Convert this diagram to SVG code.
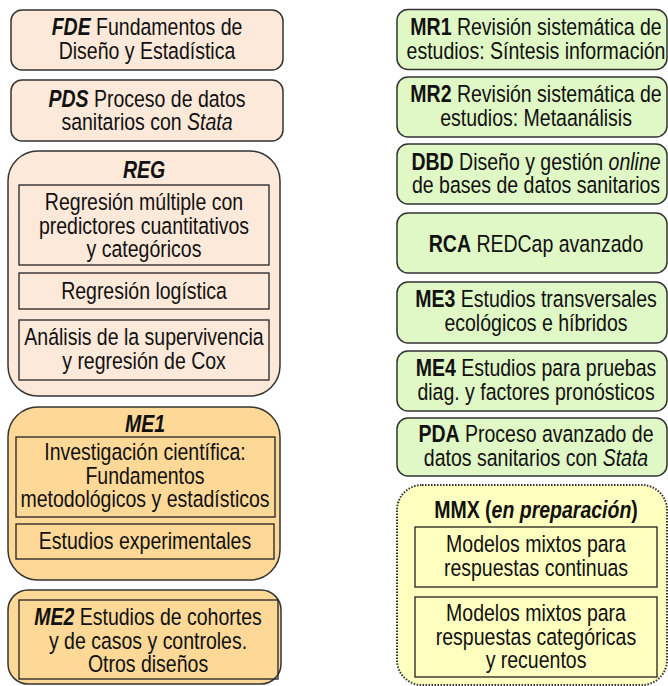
<svg xmlns="http://www.w3.org/2000/svg" width="668" height="686" viewBox="0 0 668 686">
<style>
text{font-family:"Liberation Sans",Arial,sans-serif;font-size:23.5px;fill:#111;text-anchor:middle}
.b{font-weight:bold}
.bi{font-weight:bold;font-style:italic}
.i{font-style:italic}
.peach{fill:#FDE9D9;stroke:#333;stroke-width:1.5}
.orange{fill:#FDD897;stroke:#333;stroke-width:1.5}
.green{fill:#E0F7C6;stroke:#333;stroke-width:1.5}
.yellow{fill:#FFFFC0;stroke:#333;stroke-width:2;stroke-dasharray:1.5 1.5}
.inner{fill:none;stroke:#222;stroke-width:1.3}
</style>
<rect width="668" height="686" fill="#fff"/>
<g id="FDE">
<rect class="peach" x="11" y="10" width="272" height="60" rx="11"/>
<g transform="translate(147 0) scale(0.83 1)">
<text x="0" y="35.5"><tspan class="bi">FDE</tspan> Fundamentos de</text>
<text x="0" y="59.5">Diseño y Estadística</text>
</g>
</g>
<g id="PDS">
<rect class="peach" x="11" y="80" width="272" height="61" rx="11"/>
<g transform="translate(147 0) scale(0.83 1)">
<text x="0" y="107"><tspan class="bi">PDS</tspan> Proceso de datos</text>
<text x="0" y="130.5">sanitarios con <tspan class="i">Stata</tspan></text>
</g>
</g>
<g id="REG">
<rect class="peach" x="8" y="151" width="272" height="245" rx="30"/>
<rect class="inner" x="19" y="185" width="250" height="80"/>
<rect class="inner" x="19" y="273" width="250" height="36"/>
<rect class="inner" x="19" y="320" width="250" height="60"/>
<g transform="translate(144 0) scale(0.83 1)">
<text class="bi" x="0" y="178.5">REG</text>
<text x="0" y="210.5">Regresión múltiple con</text>
<text x="0" y="234">predictores cuantitativos</text>
<text x="0" y="257.5">y categóricos</text>
<text x="0" y="299.5">Regresión logística</text>
<text x="0" y="345.5">Análisis de la supervivencia</text>
<text x="0" y="369">y regresión de Cox</text>
</g>
</g>
<g id="ME1">
<rect class="orange" x="8" y="407" width="272" height="173" rx="30"/>
<rect class="inner" x="16" y="437" width="259" height="80"/>
<rect class="inner" x="16" y="524" width="258" height="35"/>
<g transform="translate(145 0) scale(0.83 1)">
<text class="bi" x="0" y="432">ME1</text>
<text x="0" y="460.5">Investigación científica:</text>
<text x="0" y="484">Fundamentos</text>
<text x="0" y="507.5">metodológicos y estadísticos</text>
<text x="0" y="549.5">Estudios experimentales</text>
</g>
</g>
<g id="ME2">
<rect class="orange" x="8" y="590" width="273" height="94" rx="20"/>
<rect class="inner" x="19" y="600" width="259" height="79"/>
<g transform="translate(148 0) scale(0.83 1)">
<text x="0" y="625.5"><tspan class="bi">ME2</tspan> Estudios de cohortes</text>
<text x="0" y="649">y de casos y controles.</text>
<text x="0" y="672.5">Otros diseños</text>
</g>
</g>
<g id="MR1">
<rect class="green" x="397" y="9.5" width="270" height="60" rx="11"/>
<g transform="translate(536 0) scale(0.83 1)">
<text x="0" y="35.5"><tspan class="b">MR1</tspan> Revisión sistemática de</text>
<text x="0" y="59.5">estudios: Síntesis información</text>
</g>
</g>
<g id="MR2">
<rect class="green" x="397" y="77" width="270" height="60" rx="11"/>
<g transform="translate(536 0) scale(0.83 1)">
<text x="0" y="102.5"><tspan class="b">MR2</tspan> Revisión sistemática de</text>
<text x="0" y="126">estudios: Metaanálisis</text>
</g>
</g>
<g id="DBD">
<rect class="green" x="397" y="144" width="270" height="60" rx="11"/>
<g transform="translate(536 0) scale(0.83 1)">
<text x="0" y="170"><tspan class="b">DBD</tspan> Diseño y gestión <tspan class="i">online</tspan></text>
<text x="0" y="193.5">de bases de datos sanitarios</text>
</g>
</g>
<g id="RCA">
<rect class="green" x="397" y="213" width="270" height="60" rx="11"/>
<g transform="translate(536 0) scale(0.83 1)">
<text x="0" y="252"><tspan class="b">RCA</tspan> REDCap avanzado</text>
</g>
</g>
<g id="ME3">
<rect class="green" x="397" y="282" width="270" height="61" rx="11"/>
<g transform="translate(536 0) scale(0.83 1)">
<text x="0" y="307.5"><tspan class="b">ME3</tspan> Estudios transversales</text>
<text x="0" y="331">ecológicos e híbridos</text>
</g>
</g>
<g id="ME4">
<rect class="green" x="397" y="351" width="270" height="60" rx="11"/>
<g transform="translate(536 0) scale(0.83 1)">
<text x="0" y="376.5"><tspan class="b">ME4</tspan> Estudios para pruebas</text>
<text x="0" y="400">diag. y factores pronósticos</text>
</g>
</g>
<g id="PDA">
<rect class="green" x="397" y="418" width="270" height="58" rx="11"/>
<g transform="translate(536 0) scale(0.83 1)">
<text x="0" y="442.5"><tspan class="b">PDA</tspan> Proceso avanzado de</text>
<text x="0" y="466.5">datos sanitarios con <tspan class="i">Stata</tspan></text>
</g>
</g>
<g id="MMX">
<rect class="yellow" x="397" y="485" width="270" height="200" rx="25"/>
<rect class="inner" x="415" y="527" width="242" height="60"/>
<rect class="inner" x="415" y="597" width="242" height="80"/>
<g transform="translate(536 0) scale(0.83 1)">
<text class="b" x="0" y="518.5">MMX (<tspan class="bi">en preparación</tspan>)</text>
<text x="0" y="552.5">Modelos mixtos para</text>
<text x="0" y="576">respuestas continuas</text>
<text x="0" y="621.5">Modelos mixtos para</text>
<text x="0" y="645">respuestas categóricas</text>
<text x="0" y="668.5">y recuentos</text>
</g>
</g>
<g id="connectors"/>
</svg>
